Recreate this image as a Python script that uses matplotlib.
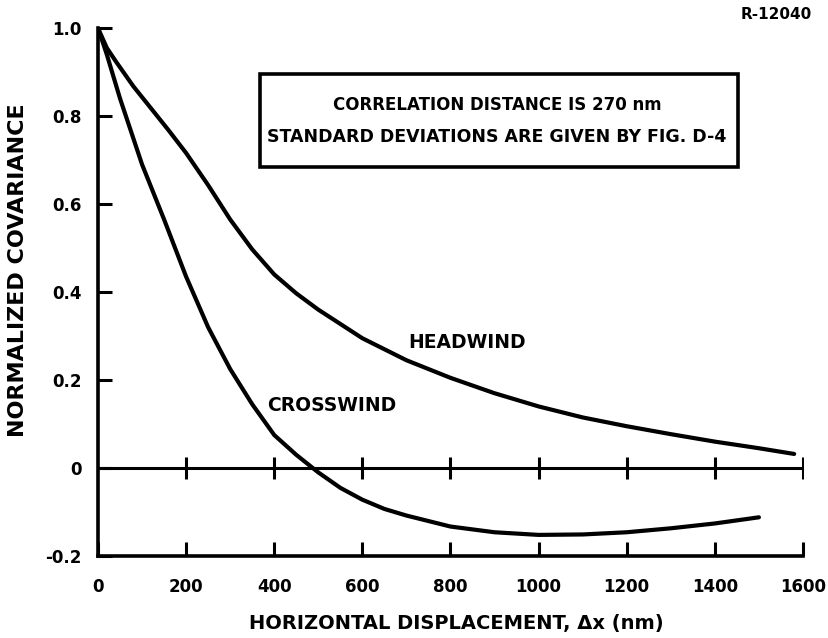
import matplotlib.pyplot as plt
from matplotlib.patches import Rectangle

# values
headwind_x = [0, 20, 40, 80, 120, 160, 200, 250, 300, 350, 400, 450, 500, 600, 700, 800, 900, 1000, 1100, 1200,
              1300, 1400, 1500, 1580]
headwind_y = [1.0, 0.955, 0.925, 0.868, 0.818, 0.768, 0.716, 0.643, 0.565, 0.497, 0.44, 0.397, 0.36, 0.295, 0.245,
              0.205, 0.17, 0.14, 0.115, 0.095, 0.077, 0.06, 0.045, 0.032]

crosswind_x = [0, 20, 50, 100, 150, 200, 250, 300, 350, 400, 450, 500, 550, 600, 650, 700, 800, 900, 1000, 1100,
               1200, 1300, 1400, 1500]
crosswind_y = [1.0, 0.94, 0.84, 0.69, 0.565, 0.435, 0.32, 0.225, 0.145, 0.075, 0.03, -0.01, -0.045, -0.072, -0.093,
               -0.108, -0.133, -0.146, -0.152, -0.151, -0.146, -0.137, -0.126, -0.112]

x_ticks = [0, 200, 400, 600, 800, 1000, 1200, 1400, 1600]
y_ticks = [-0.2, 0, 0.2, 0.4, 0.6, 0.8, 1.0]
y_tick_labels = ['-0.2', '0', '0.2', '0.4', '0.6', '0.8', '1.0']

plt.rcParams['font.family'] = ['DejaVu Sans']
plt.rcParams['font.weight'] = 'bold'

fig = plt.figure(figsize=(8.29, 6.38), dpi=100)
ax = fig.add_axes([0.1182, 0.1285, 0.9686 - 0.1182, 0.956 - 0.1285])

lw = 3.0
ax.plot(headwind_x, headwind_y, color='black', lw=lw, solid_capstyle='round', solid_joinstyle='round')
ax.plot(crosswind_x, crosswind_y, color='black', lw=lw, solid_capstyle='round', solid_joinstyle='round')

# zero line with crossing ticks
ax.axhline(0, color='black', lw=2.2)
ax.plot(x_ticks[1:], [0] * (len(x_ticks) - 1), linestyle='none', marker='|', markersize=16,
        markeredgewidth=2.2, color='black')

ax.set_xlim(0, 1600)
ax.set_ylim(-0.2, 1.0)
ax.set_xticks(x_ticks)
ax.set_xticklabels([str(t) for t in x_ticks])
ax.set_yticks(y_ticks)
ax.set_yticklabels(y_tick_labels)

for s in ['top', 'right']:
    ax.spines[s].set_visible(False)
for s in ['left', 'bottom']:
    ax.spines[s].set_linewidth(2.6)

ax.tick_params(axis='x', direction='in', length=10, width=2.2, pad=16, labelsize=12)
ax.tick_params(axis='y', direction='in', length=10, width=2.2, pad=12, labelsize=12)

ax.set_xlabel('HORIZONTAL DISPLACEMENT, \u0394x (nm)', fontsize=14, fontweight='bold', va='center')
ax.xaxis.set_label_coords((456 - 98) / 705, (556 - 623) / 528)
ax.set_ylabel('NORMALIZED COVARIANCE', fontsize=16, fontweight='bold', va='center')
ax.yaxis.set_label_coords((18 - 98) / 705, (556 - 270) / 528)

ax.add_patch(Rectangle((368, 0.684), 1453 - 368, 0.895 - 0.684, fill=False, lw=2.6, edgecolor='black'))
ax.text(906, 0.825, 'CORRELATION DISTANCE IS 270 nm', ha='center', va='center', fontsize=12)
ax.text(906, 0.752, 'STANDARD DEVIATIONS ARE GIVEN BY FIG. D-4', ha='center', va='center', fontsize=12.5)

ax.text(837, 0.286, 'HEADWIND', ha='center', va='center', fontsize=13.5)
ax.text(531, 0.143, 'CROSSWIND', ha='center', va='center', fontsize=13.5)

fig.text(0.936, 0.978, 'R-12040', ha='center', va='center', fontsize=11)

fig.savefig('out.png', dpi=100)
